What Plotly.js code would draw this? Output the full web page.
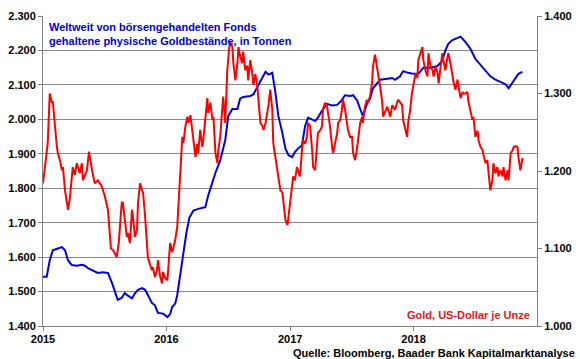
<!DOCTYPE html>
<html>
<head>
<meta charset="utf-8">
<script src="https://cdn.plot.ly/plotly-3.0.1.min.js"></script>
<style>
html,body{margin:0;padding:0;background:#fff;}
#chart{width:580px;height:359px;}
</style>
</head>
<body>
<div id="chart"></div>
<script>
// Weltweit von ETFs gehaltene physische Goldbestände (Tonnen) - linke Achse
var etfDates = [
"2015-01-01","2015-01-12","2015-01-21","2015-01-30","2015-02-14","2015-02-26","2015-03-07","2015-03-16","2015-03-27","2015-04-11","2015-04-26","2015-05-05","2015-05-14","2015-05-29","2015-06-12","2015-06-27","2015-07-12","2015-07-24","2015-08-02","2015-08-10","2015-08-22","2015-08-31","2015-09-09","2015-09-21","2015-09-30","2015-10-09","2015-10-21","2015-10-30","2015-11-07","2015-11-19","2015-11-28","2015-12-07","2015-12-22",
"2016-01-04","2016-01-12","2016-01-18","2016-01-27","2016-02-02","2016-02-11","2016-02-20","2016-02-29","2016-03-09","2016-03-21","2016-04-04","2016-04-25","2016-05-04","2016-05-16","2016-05-25","2016-06-08","2016-06-23","2016-07-02","2016-07-14","2016-07-29","2016-08-06","2016-08-15","2016-09-05","2016-09-14","2016-09-26","2016-10-11","2016-10-20","2016-10-29","2016-11-09","2016-11-18","2016-11-27","2016-12-09","2016-12-18","2016-12-27",
"2017-01-07","2017-01-15","2017-01-24","2017-02-05","2017-02-14","2017-02-23","2017-03-07","2017-03-16","2017-03-24","2017-04-05","2017-04-20","2017-05-05","2017-05-20","2017-06-03","2017-06-12","2017-06-27","2017-07-06","2017-07-18","2017-07-27","2017-08-04","2017-08-16","2017-08-25","2017-09-03","2017-09-15","2017-09-24","2017-10-15","2017-10-30","2017-11-07","2017-11-22","2017-12-01","2017-12-16",
"2018-01-01","2018-01-15","2018-01-30","2018-02-20","2018-03-13","2018-03-27","2018-04-05","2018-04-14","2018-04-26","2018-05-11","2018-05-20","2018-06-03","2018-06-18","2018-07-03","2018-07-18","2018-08-02","2018-08-16","2018-08-31","2018-09-15","2018-09-30","2018-10-09","2018-10-21","2018-10-30","2018-11-07","2018-11-19"];
var etfTonnes = [
1543,1543,1591,1620,1625,1629,1620,1591,1577,1575,1578,1575,1568,1560,1554,1556,1554,1525,1496,1476,1482,1496,1488,1480,1495,1505,1510,1505,1490,1467,1460,1438,1436,
1426,1435,1455,1465,1490,1550,1610,1670,1715,1735,1740,1745,1780,1820,1845,1880,1940,2010,2030,2030,2060,2065,2068,2072,2095,2120,2138,2130,2135,2080,2010,1960,1915,1896,
1890,1905,1915,1925,1980,2005,2000,1995,2005,2025,2045,2040,2042,2056,2070,2068,2070,2055,2030,2010,2045,2060,2090,2105,2115,2118,2120,2115,2125,2140,2135,
2132,2132,2150,2150,2155,2170,2200,2220,2230,2235,2240,2225,2205,2175,2158,2140,2125,2115,2108,2102,2090,2108,2120,2132,2138];

// Goldpreis, US-Dollar je Unze - rechte Achse
var goldDates = [
"2015-01-01","2015-01-07","2015-01-12","2015-01-15","2015-01-21","2015-01-27","2015-01-30","2015-02-05","2015-02-11","2015-02-14","2015-02-20","2015-02-26","2015-03-01","2015-03-07","2015-03-13","2015-03-16","2015-03-22","2015-03-27","2015-03-30","2015-04-05","2015-04-11","2015-04-20","2015-04-26","2015-04-29","2015-05-05","2015-05-11","2015-05-17","2015-05-20","2015-05-26","2015-06-03","2015-06-12","2015-06-24","2015-07-03","2015-07-12","2015-07-18","2015-07-21","2015-07-27","2015-08-02","2015-08-07","2015-08-13","2015-08-19","2015-08-22","2015-08-25","2015-08-31","2015-09-06","2015-09-09","2015-09-15","2015-09-21","2015-09-24","2015-09-30","2015-10-06","2015-10-09","2015-10-15","2015-10-21","2015-10-24","2015-10-30","2015-11-04","2015-11-07","2015-11-13","2015-11-19","2015-11-22","2015-11-28","2015-12-04","2015-12-07","2015-12-13","2015-12-19","2015-12-22","2015-12-27",
"2016-01-04","2016-01-07","2016-01-12","2016-01-18","2016-01-21","2016-01-27","2016-02-02","2016-02-05","2016-02-08","2016-02-14","2016-02-17","2016-02-20","2016-02-26","2016-03-03","2016-03-06","2016-03-12","2016-03-18","2016-03-21","2016-03-27","2016-04-01","2016-04-04","2016-04-10","2016-04-16","2016-04-19","2016-04-25","2016-05-01","2016-05-04","2016-05-10","2016-05-16","2016-05-19","2016-05-25","2016-05-31","2016-06-02","2016-06-08","2016-06-14","2016-06-17","2016-06-23","2016-06-26","2016-06-29","2016-07-05","2016-07-08","2016-07-14","2016-07-17","2016-07-23","2016-07-29","2016-08-01","2016-08-06","2016-08-12","2016-08-15","2016-08-21","2016-08-27","2016-08-30","2016-09-05","2016-09-11","2016-09-14","2016-09-20","2016-09-26","2016-09-29","2016-10-05","2016-10-11","2016-10-14","2016-10-20","2016-10-26","2016-10-29","2016-11-03","2016-11-09","2016-11-12","2016-11-18","2016-11-24","2016-11-27","2016-12-03","2016-12-09","2016-12-12","2016-12-18","2016-12-24","2016-12-27",
"2017-01-01","2017-01-07","2017-01-10","2017-01-15","2017-01-21","2017-01-24","2017-01-30","2017-02-05","2017-02-08","2017-02-14","2017-02-20","2017-02-23","2017-03-01","2017-03-07","2017-03-10","2017-03-16","2017-03-22","2017-03-24","2017-03-30","2017-04-05","2017-04-08","2017-04-14","2017-04-20","2017-04-23","2017-04-29","2017-05-05","2017-05-08","2017-05-14","2017-05-20","2017-05-23","2017-05-29","2017-06-03","2017-06-06","2017-06-12","2017-06-18","2017-06-21","2017-06-27","2017-07-03","2017-07-06","2017-07-12","2017-07-18","2017-07-21","2017-07-27","2017-08-02","2017-08-04","2017-08-10","2017-08-16","2017-08-19","2017-08-25","2017-08-31","2017-09-03","2017-09-09","2017-09-15","2017-09-18","2017-09-24","2017-09-30","2017-10-03","2017-10-15","2017-10-24","2017-10-30","2017-11-07","2017-11-16","2017-11-28","2017-12-01","2017-12-07","2017-12-13","2017-12-16","2017-12-22","2017-12-27",
"2018-01-01","2018-01-07","2018-01-12","2018-01-15","2018-01-21","2018-01-27","2018-01-30","2018-02-05","2018-02-11","2018-02-14","2018-02-20","2018-02-26","2018-03-01","2018-03-07","2018-03-13","2018-03-16","2018-03-22","2018-03-27","2018-03-30","2018-04-05","2018-04-11","2018-04-14","2018-04-20","2018-04-26","2018-04-29","2018-05-05","2018-05-11","2018-05-14","2018-05-20","2018-05-26","2018-05-29","2018-06-03","2018-06-09","2018-06-12","2018-06-18","2018-06-24","2018-06-27","2018-07-03","2018-07-09","2018-07-12","2018-07-18","2018-07-24","2018-07-27","2018-08-02","2018-08-07","2018-08-10","2018-08-16","2018-08-22","2018-08-25","2018-08-31","2018-09-06","2018-09-09","2018-09-15","2018-09-21","2018-09-24","2018-09-30","2018-10-06","2018-10-09","2018-10-15","2018-10-21","2018-10-24","2018-10-30","2018-11-04","2018-11-07","2018-11-13","2018-11-19"];
var goldUsd = [
1184,1205,1223,1236,1300,1288,1290,1257,1231,1223,1214,1201,1205,1175,1159,1150,1167,1197,1205,1195,1210,1197,1210,1188,1195,1201,1225,1215,1201,1184,1188,1180,1167,1150,1115,1100,1098,1092,1089,1107,1141,1160,1159,1137,1115,1120,1107,1150,1141,1115,1124,1159,1184,1175,1172,1141,1111,1089,1080,1072,1076,1063,1072,1085,1065,1055,1070,1063,
1059,1080,1107,1095,1100,1111,1128,1154,1180,1230,1244,1236,1257,1270,1262,1272,1250,1236,1218,1235,1223,1253,1231,1240,1265,1294,1275,1288,1266,1270,1223,1210,1225,1244,1279,1296,1262,1313,1330,1360,1366,1360,1339,1317,1339,1360,1348,1339,1354,1330,1336,1317,1343,1326,1311,1325,1309,1292,1262,1258,1253,1262,1275,1285,1305,1280,1236,1218,1201,1190,1175,1172,1159,1137,1130,1141,
1159,1175,1193,1188,1205,1201,1193,1227,1240,1235,1245,1262,1258,1227,1205,1201,1230,1249,1252,1257,1279,1288,1284,1275,1257,1231,1223,1236,1249,1262,1266,1279,1292,1280,1257,1253,1244,1244,1223,1214,1230,1244,1262,1270,1262,1283,1292,1288,1296,1313,1335,1350,1335,1322,1309,1290,1270,1283,1270,1285,1279,1292,1285,1266,1253,1244,1262,1279,1300,
1313,1326,1320,1343,1352,1360,1343,1330,1322,1352,1335,1330,1322,1335,1326,1313,1335,1352,1343,1330,1347,1352,1339,1322,1315,1305,1318,1309,1294,1302,1300,1300,1302,1290,1279,1266,1270,1244,1252,1240,1231,1227,1220,1210,1214,1197,1175,1188,1210,1197,1205,1193,1201,1193,1205,1188,1201,1188,1223,1227,1231,1232,1231,1218,1201,1217];

var yearTicks = ["2015-01-01","2016-01-01","2017-01-01","2018-01-01"];
var yearLabels = ["2015","2016","2017","2018"];

var FONT = "Liberation Sans, Arial, sans-serif";

var traces = [
  {x: etfDates, y: etfTonnes, type: "scatter", mode: "lines", yaxis: "y",
   line: {color: "#0000dd", width: 2}, hoverinfo: "x+y"},
  {x: goldDates, y: goldUsd, type: "scatter", mode: "lines", yaxis: "y2",
   line: {color: "#ff0000", width: 2}, hoverinfo: "x+y"}
];

var layout = {
  width: 580, height: 359,
  margin: {l: 43, r: 43, t: 16, b: 33, pad: 0},
  paper_bgcolor: "#fff", plot_bgcolor: "#fff",
  showlegend: false,
  separators: ",.",
  font: {family: FONT, size: 11, color: "#000"},
  xaxis: {
    type: "date", range: ["2015-01-01", "2019-01-01"],
    tickvals: yearTicks, ticktext: yearLabels,
    ticks: "outside", ticklen: 4, tickcolor: "#808080", tickwidth: 1,
    ticklabelstandoff: -1,
    showline: true, linecolor: "#808080", linewidth: 1,
    showgrid: false, zeroline: false,
    tickfont: {family: FONT, size: 11, color: "#000", weight: "bold"}
  },
  yaxis: {
    range: [1400, 2300], dtick: 100, tick0: 1400, tickformat: ",",
    ticks: "outside", ticklen: 4, tickcolor: "#808080",
    showline: true, linecolor: "#808080", linewidth: 1,
    showgrid: true, gridcolor: "#8a8a8a", gridwidth: 1, zeroline: false,
    tickfont: {family: FONT, size: 11, color: "#000", weight: "bold"}
  },
  yaxis2: {
    range: [1000, 1400], dtick: 100, tick0: 1000, tickformat: ",",
    overlaying: "y", side: "right",
    ticks: "outside", ticklen: 4, tickcolor: "#808080",
    showline: true, linecolor: "#808080", linewidth: 1,
    showgrid: false, zeroline: false,
    tickfont: {family: FONT, size: 11, color: "#000", weight: "bold"}
  },
  annotations: [
    {text: "Weltweit von börsengehandelten Fonds<br>gehaltene physische Goldbestände, in Tonnen",
     xref: "paper", yref: "paper", x: 0.008, y: 0.99, xanchor: "left", yanchor: "top",
     align: "left", showarrow: false,
     font: {family: FONT, size: 11, color: "#0000cc", weight: "bold"}},
    {text: "Gold, US-Dollar je Unze",
     xref: "paper", yref: "paper", x: 0.99, y: 0.01, xanchor: "right", yanchor: "bottom",
     showarrow: false,
     font: {family: FONT, size: 11, color: "#e8141b", weight: "bold"}},
    {text: "Quelle: Bloomberg, Baader Bank Kapitalmarktanalyse",
     xref: "paper", yref: "paper", x: 1.08, y: -0.086, xanchor: "right", yanchor: "middle",
     showarrow: false,
     font: {family: FONT, size: 11, color: "#000", weight: "bold"}}
  ]
};

Plotly.newPlot("chart", traces, layout, {staticPlot: true, displayModeBar: false});
</script>
</body>
</html>
